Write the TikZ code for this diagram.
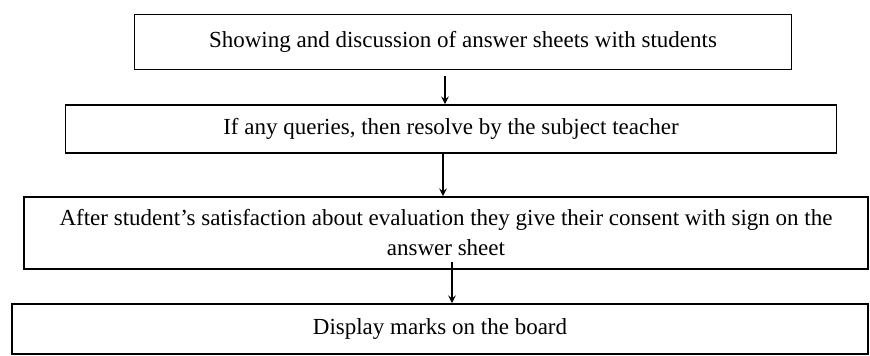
\documentclass[tikz,border=0pt]{standalone}
\usepackage{fontspec}
\setmainfont{Liberation Serif}
\newlength\px
\setlength\px{0.5pt}
\begin{document}
\begin{tikzpicture}[x=0.5pt, y=-0.5pt, font=\fontsize{11.5}{15}\selectfont,
  stepbox/.style={draw, line width=0.8pt, align=center, inner sep=0pt},
  arr/.style={->, >=stealth, line width=0.7pt}
]
  \useasboundingbox (0,0) rectangle (870,356);
  % Boxes
  \node[stepbox, minimum width=657\px, minimum height=55\px] (show)    at (463,42)
        {Showing and discussion of answer sheets with students};
  \node[stepbox, minimum width=771\px, minimum height=48\px] (query)   at (451,129)
        {If any queries, then resolve by the subject teacher};
  \node[stepbox, minimum width=844\px, minimum height=72\px] (consent) at (446,233)
        {After student's satisfaction about evaluation they give their consent with sign on the\\answer sheet};
  \node[stepbox, minimum width=856\px, minimum height=50\px] (display) at (440,329)
        {Display marks on the board};
  \coordinate (sheet) at (452,262);
  % Arrows
  \draw[arr, shorten <=6\px] ([xshift=-18\px]show.south) -- ([xshift=-18\px]show.south |- query.north);
  \draw[arr] ([xshift=-8\px]query.south) -- ([xshift=-8\px]query.south |- consent.north);
  \draw[arr] (sheet) -- (sheet |- display.north);
\end{tikzpicture}
\end{document}
